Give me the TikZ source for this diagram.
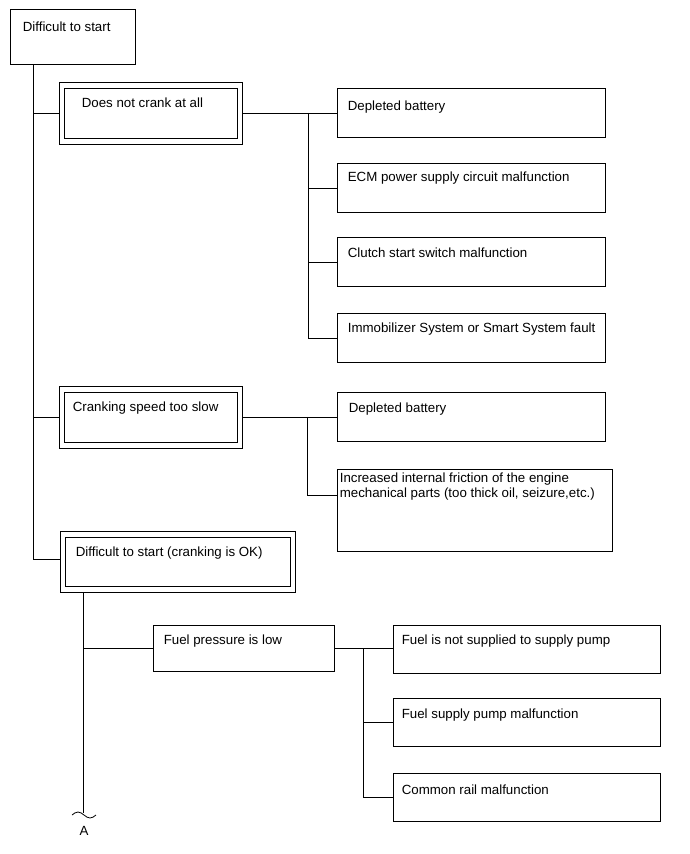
\documentclass[tikz,border=0pt]{standalone}
\usepackage{fontspec}
\setmainfont{Liberation Sans}
\usetikzlibrary{positioning}
\tikzset{
  box/.style={rectangle, draw, line width=0.8pt, inner sep=0pt, anchor=north west},
  boxtext/.style={anchor=north west, inner sep=0pt, align=left,
                  font=\fontsize{13.3}{15}\selectfont},
  wire/.style={line width=0.8pt},
}
\begin{document}
\begin{tikzpicture}[x=1pt, y=-1pt]
  \useasboundingbox (0,0) rectangle (690,854);
  % symptom and its three cases
  \node[box, minimum width=125, minimum height=55,
        label={[boxtext, xshift=13pt, yshift=-13pt]north west:Difficult to start}]
    (start) at (9.6,8.6) {};
  \node[box, minimum width=183, minimum height=62,
        label={[boxtext, xshift=23pt, yshift=-16pt]north west:Does not crank at all}]
    (nocrank) at (58.6,81.6) {};
  \node[box, minimum width=183, minimum height=62,
        label={[boxtext, xshift=14pt, yshift=-16pt]north west:Cranking speed too slow}]
    (slow) at (58.6,385.6) {};
  \node[box, minimum width=235, minimum height=61,
        label={[boxtext, xshift=16pt, yshift=-16pt]north west:Difficult to start (cranking is OK)}]
    (ok) at (59.6,530.6) {};
  % inner frame of the double boxes
  \foreach \n in {nocrank,slow,ok}
    \draw[wire] ([xshift=5.3pt,yshift=-6.5pt]\n.north west)
      rectangle ([xshift=-5.3pt,yshift=6.5pt]\n.south east);
  \coordinate (trunk) at ([xshift=24pt]start.south west);
  \draw[wire] (trunk) |- (nocrank.west);
  \draw[wire] (trunk) |- (slow.west);
  \draw[wire] (trunk) |- ([yshift=2pt]ok.west);

  % does not crank at all
  \foreach \i/\y/\dy/\txt in {1/88/13/Depleted battery,
                              2/163/9/ECM power supply circuit malfunction,
                              3/237/11/Clutch start switch malfunction,
                              4/313/10/Immobilizer System or Smart System fault} {
    \node[box, minimum width=268, minimum height=49,
          label={[boxtext, xshift=11pt, yshift=-\dy pt]north west:\txt}]
      (a\i) at (336.6,\y) {};
  }
  \coordinate (busA) at (308,112);
  \draw[wire] (nocrank.east) -- (nocrank.east -| a1.west);
  \draw[wire] (busA |- a1.west) -- (busA |- a4.west);
  \foreach \i in {2,3,4}
    \draw[wire] (busA |- a\i.west) -- (a\i.west);

  % cranking speed too slow
  \node[box, minimum width=268, minimum height=49,
        label={[boxtext, xshift=12pt, yshift=-11pt]north west:Depleted battery}]
    (b1) at (336.6,392) {};
  \node[box, minimum width=275, minimum height=82,
        label={[boxtext, xshift=3pt, yshift=-4pt]north west:{Increased internal friction of the engine\\
               mechanical parts (too thick oil, seizure,etc.)}}]
    (fric) at (336.6,469) {};
  \coordinate (busB) at (307,417);
  \draw[wire] (slow.east) -- (slow.east -| b1.west);
  \draw[wire] (busB |- b1.west) |- ([yshift=15pt]fric.west);

  % cranking is OK
  \node[box, minimum width=181, minimum height=46,
        label={[boxtext, xshift=11pt, yshift=-10pt]north west:Fuel pressure is low}]
    (c0) at (152.6,624.6) {};
  \foreach \i/\y/\dy/\txt in {1/624.6/10/Fuel is not supplied to supply pump,
                              2/697.6/11/Fuel supply pump malfunction,
                              3/772.6/12/Common rail malfunction} {
    \node[box, minimum width=267, minimum height=48,
          label={[boxtext, xshift=9pt, yshift=-\dy pt]north west:\txt}]
      (c\i) at (392.6,\y) {};
  }
  \coordinate (busC) at (363,648);
  \coordinate (cut) at (83,813);
  \draw[wire] (ok.south -| cut) -- (cut);
  \draw[wire] (cut |- c0.west) -- (c0.west);
  \draw[wire] (c0.east) -- (c0.east -| c1.west);
  \draw[wire] (busC |- c1.west) -- (busC |- c3.west);
  \foreach \i in {2,3}
    \draw[wire] (busC |- c\i.west) -- (c\i.west);

  % break mark
  \draw[wire] (72,815) sin (78,812) cos (84,815) sin (90,818) cos (96,815);
  \node[boxtext, anchor=center] (contA) at (84,830.5) {A};
\end{tikzpicture}
\end{document}
